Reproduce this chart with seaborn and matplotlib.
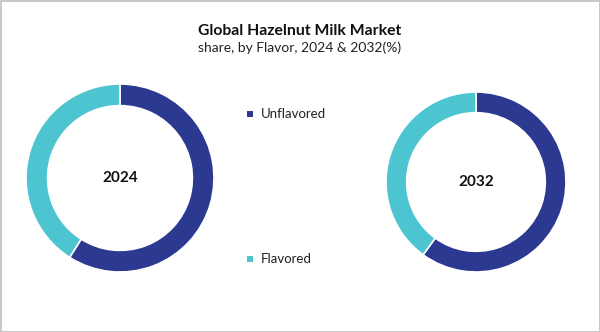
import matplotlib
matplotlib.use("Agg")
import matplotlib.pyplot as plt
import seaborn as sns
from matplotlib.patches import Rectangle

categories = ["Unflavored", "Flavored"]
years = ["2024", "2032"]
share_2024 = [59, 41]
share_2032 = [60, 40]
colors = ["#2B3990", "#4DC5D1"]

sns.set_theme(style="white")
plt.rcParams['font.family'] = ['Lato', 'DejaVu Sans']

fig = plt.figure(figsize=(6, 3.32), dpi=100)
fig.patch.set_facecolor("white")

ax1 = fig.add_axes([26/600, 1-272/332, 188/600, 188/332])
ax2 = fig.add_axes([386/600, 1-272/332, 180/600, 180/332])

for ax, vals, yr in [(ax1, share_2024, years[0]), (ax2, share_2032, years[1])]:
    ax.pie(vals, colors=colors, startangle=90, counterclock=False, radius=1,
           wedgeprops=dict(width=0.23, edgecolor="white", linewidth=1.2))
    ax.set_aspect("equal")
    ax.set_xlim(-1, 1)
    ax.set_ylim(-1, 1)
    ax.axis("off")
    ax.text(0, 0, yr, ha="center", va="center", fontsize=11, fontweight="bold", color="#111111")

fig.text(0.5, 1-31/332, "Global Hazelnut Milk Market", ha="center", va="center",
         fontsize=11.3, fontweight="bold", color="#111111")
fig.text(0.5, 1-48/332, "share, by Flavor, 2024 & 2032(%)", ha="center", va="center",
         fontsize=10, color="#222222")

for cat, col, ypix in [(categories[0], colors[0], 114), (categories[1], colors[1], 259)]:
    fig.patches.append(Rectangle((247/600, 1-(ypix+3)/332), 6/600, 6/332,
                                 transform=fig.transFigure, facecolor=col, edgecolor="none"))
    fig.text(261/600, 1-ypix/332, cat, ha="left", va="center", fontsize=9.5, color="#222222")

fig.patches.append(Rectangle((0.5/600, 0.5/332), 599/600, 331/332, transform=fig.transFigure,
                             facecolor="none", edgecolor="#BFBFBF", linewidth=1.2))

fig.savefig("out.png", dpi=100)
